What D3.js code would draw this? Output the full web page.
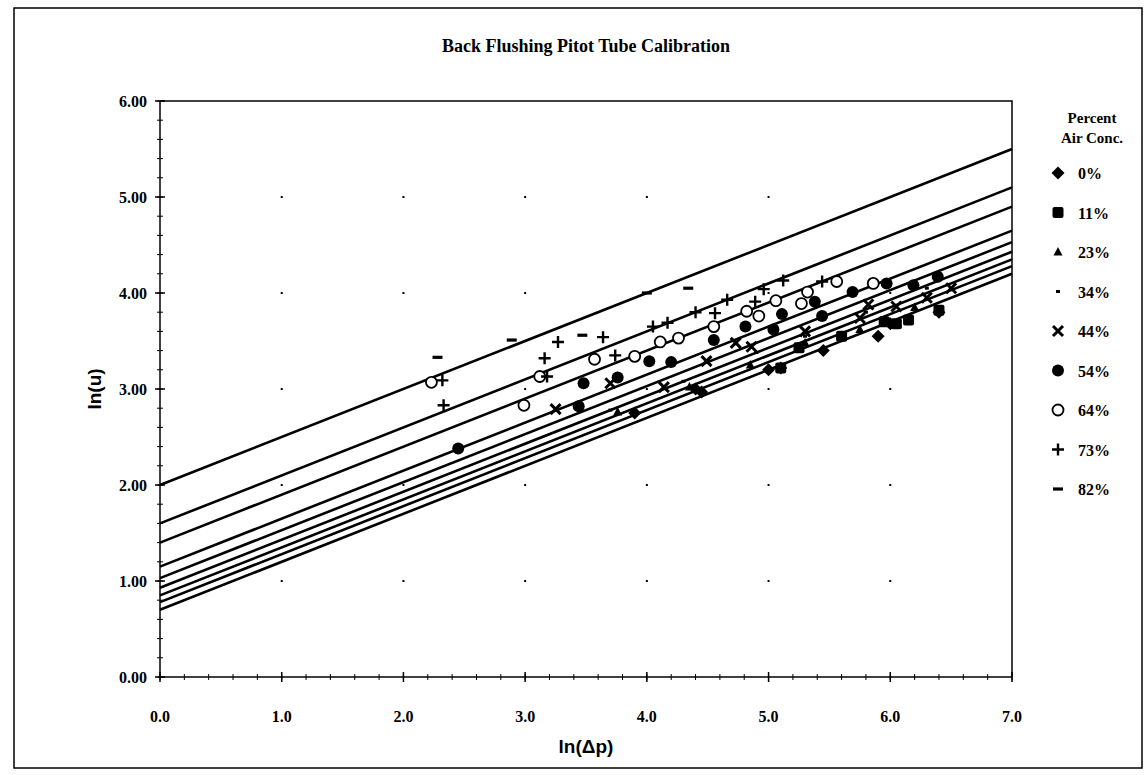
<!DOCTYPE html>
<html>
<head>
<meta charset="utf-8">
<script src="https://cdn.jsdelivr.net/npm/d3@7"></script>
<style>
  body { margin: 0; background: #fff; }
  text { fill: #000; }
  .tick-lbl { font-family: "Liberation Serif", serif; font-weight: bold; font-size: 16px; }
</style>
</head>
<body>
<svg></svg>
<script>
const width = 1146,
  height = 775;

// series names (legend order) and fitted line intercepts, slope 0.5
const seriesNames = ["0%", "11%", "23%", "34%", "44%", "54%", "64%", "73%", "82%"];
const intercepts = [0.7, 0.78, 0.85, 0.93, 1.03, 1.15, 1.4, 1.6, 2.0];
const slope = 0.5;

const pts0 = [[3.9, 2.75], [4.4, 3.0], [4.45, 2.97], [5.0, 3.2], [5.1, 3.22], [5.45, 3.4], [5.9, 3.55], [6.0, 3.68], [6.4, 3.8]];
const pts11 = [[5.1, 3.22], [5.25, 3.43], [5.6, 3.55], [5.95, 3.7], [6.05, 3.68], [6.15, 3.72], [6.4, 3.82]];
const pts23 = [[3.76, 2.76], [4.35, 3.02], [4.85, 3.25], [5.3, 3.48], [5.75, 3.62], [6.2, 3.85]];
const pts34 = [[3.7, 2.78], [4.3, 3.08], [4.9, 3.38], [5.3, 3.55], [5.8, 3.8], [6.3, 4.05]];
const pts44 = [[3.25, 2.79], [3.7, 3.06], [4.14, 3.02], [4.49, 3.29], [4.73, 3.48], [4.86, 3.44], [5.3, 3.6], [5.75, 3.74], [5.82, 3.88], [6.05, 3.86], [6.3, 3.95], [6.5, 4.05]];
const pts54 = [[2.45, 2.38], [3.44, 2.82], [3.48, 3.06], [3.76, 3.12], [4.02, 3.29], [4.2, 3.28], [4.55, 3.51], [4.81, 3.65], [5.04, 3.62], [5.11, 3.78], [5.38, 3.91], [5.44, 3.76], [5.69, 4.01], [5.97, 4.1], [6.19, 4.08], [6.39, 4.17]];
const pts64 = [[2.23, 3.07], [2.99, 2.83], [3.12, 3.13], [3.57, 3.31], [3.9, 3.34], [4.11, 3.49], [4.26, 3.53], [4.55, 3.65], [4.82, 3.81], [4.92, 3.76], [5.06, 3.92], [5.27, 3.89], [5.32, 4.01], [5.56, 4.12], [5.86, 4.1]];
const pts73 = [[2.32, 3.09], [2.33, 2.83], [3.16, 3.32], [3.18, 3.13], [3.27, 3.49], [3.64, 3.54], [3.74, 3.35], [4.05, 3.65], [4.17, 3.69], [4.4, 3.8], [4.56, 3.79], [4.66, 3.93], [4.89, 3.91], [4.96, 4.04], [5.12, 4.13], [5.44, 4.12]];
const pts82 = [[2.28, 3.33], [2.89, 3.51], [3.47, 3.56], [4.0, 4.0], [4.34, 4.05]];

const allPts = [pts0, pts11, pts23, pts34, pts44, pts54, pts64, pts73, pts82];
const markers = ["diamond", "square", "triangle", "dash34", "xmark", "dot", "ring", "plus", "dash"];

const xTicks = [0, 1, 2, 3, 4, 5, 6, 7];
const yTicks = [0, 1, 2, 3, 4, 5, 6];

const svg = d3.select("svg").attr("width", width).attr("height", height);

// outer frame
svg.append("rect")
  .attr("x", 14).attr("y", 8)
  .attr("width", 1128).attr("height", 760)
  .attr("fill", "none").attr("stroke", "#000").attr("stroke-width", 1.5);

const plot = { left: 160, right: 1012, top: 101, bottom: 677 };

const x = d3.scaleLinear().domain([0, 7]).range([plot.left, plot.right]);
const y = d3.scaleLinear().domain([0, 6]).range([plot.bottom, plot.top]);

// title
svg.append("text")
  .attr("x", 586).attr("y", 52)
  .attr("text-anchor", "middle")
  .style("font-family", "Liberation Serif, serif")
  .style("font-weight", "bold")
  .style("font-size", "18px")
  .text("Back Flushing Pitot Tube Calibration");

// plot border (top & right)
svg.append("path")
  .attr("d", `M${plot.left},${plot.top}H${plot.right}V${plot.bottom}`)
  .attr("fill", "none").attr("stroke", "#000").attr("stroke-width", 1.5);

// grid dots at the major intersections
const gridPts = [];
[1, 2, 3, 4, 5, 6].forEach(gx => [1, 2, 3, 4, 5].forEach(gy => gridPts.push([gx, gy])));
svg.append("g").selectAll("rect")
  .data(gridPts)
  .enter()
  .append("rect")
  .attr("x", d => x(d[0]) - 1)
  .attr("y", d => y(d[1]) - 1)
  .attr("width", 2).attr("height", 2)
  .attr("fill", "#000");

// axes
const xAxis = svg.append("g").attr("transform", `translate(0,${plot.bottom})`);
xAxis.append("line")
  .attr("x1", plot.left).attr("x2", plot.right)
  .attr("stroke", "#000").attr("stroke-width", 1.5);
xAxis.selectAll(".minor")
  .data(d3.range(0, 7.001, 0.2))
  .enter()
  .append("line")
  .attr("x1", d => x(d)).attr("x2", d => x(d))
  .attr("y1", -3).attr("y2", 3)
  .attr("stroke", "#000");
xAxis.selectAll(".major")
  .data(xTicks)
  .enter()
  .append("line")
  .attr("x1", d => x(d)).attr("x2", d => x(d))
  .attr("y1", -5).attr("y2", 5)
  .attr("stroke", "#000").attr("stroke-width", 1.5);
xAxis.selectAll("text")
  .data(xTicks)
  .enter()
  .append("text")
  .attr("class", "tick-lbl")
  .attr("x", d => x(d)).attr("y", 45)
  .attr("text-anchor", "middle")
  .text(d => d3.format(".1f")(d));

const yAxis = svg.append("g").attr("transform", `translate(${plot.left},0)`);
yAxis.append("line")
  .attr("y1", plot.top).attr("y2", plot.bottom)
  .attr("stroke", "#000").attr("stroke-width", 1.5);
yAxis.selectAll(".minor")
  .data(d3.range(0, 6.001, 0.2))
  .enter()
  .append("line")
  .attr("y1", d => y(d)).attr("y2", d => y(d))
  .attr("x1", -3).attr("x2", 3)
  .attr("stroke", "#000");
yAxis.selectAll(".major")
  .data(yTicks)
  .enter()
  .append("line")
  .attr("y1", d => y(d)).attr("y2", d => y(d))
  .attr("x1", -5).attr("x2", 5)
  .attr("stroke", "#000").attr("stroke-width", 1.5);
yAxis.selectAll("text")
  .data(yTicks)
  .enter()
  .append("text")
  .attr("class", "tick-lbl")
  .attr("x", -13).attr("y", d => y(d) + 6)
  .attr("text-anchor", "end")
  .text(d => d3.format(".2f")(d));

// axis titles
svg.append("text")
  .attr("x", x(3.5)).attr("y", 753)
  .attr("text-anchor", "middle")
  .style("font-family", "Liberation Sans Narrow, Liberation Sans, sans-serif")
  .style("font-weight", "bold")
  .style("font-size", "19px")
  .text("ln(Δp)");

svg.append("text")
  .attr("transform", `translate(101,${(plot.top + plot.bottom) / 2}) rotate(-90)`)
  .attr("text-anchor", "middle")
  .style("font-family", "Liberation Sans Narrow, Liberation Sans, sans-serif")
  .style("font-weight", "bold")
  .style("font-size", "19px")
  .text("ln(u)");

// fitted lines
const lineG = svg.append("g");
intercepts.forEach(c => {
  lineG.append("line")
    .attr("x1", x(0)).attr("y1", y(c))
    .attr("x2", x(7)).attr("y2", y(c + slope * 7))
    .attr("stroke", "#000")
    .attr("stroke-width", 2.6);
});

// marker drawing
function drawMarker(g, kind, cx, cy) {
  if (kind === "diamond") {
    g.append("path").attr("d", `M${cx},${cy - 6.5}L${cx + 6.5},${cy}L${cx},${cy + 6.5}L${cx - 6.5},${cy}Z`).attr("fill", "#000");
  } else if (kind === "square") {
    g.append("rect").attr("x", cx - 5.5).attr("y", cy - 5.5).attr("width", 11).attr("height", 11).attr("rx", 2).attr("fill", "#000");
  } else if (kind === "triangle") {
    g.append("path").attr("d", `M${cx},${cy - 5}L${cx + 4.5},${cy + 3.5}L${cx - 4.5},${cy + 3.5}Z`).attr("fill", "#000");
  } else if (kind === "dash34") {
    g.append("rect").attr("x", cx - 2).attr("y", cy - 1.5).attr("width", 4).attr("height", 3).attr("fill", "#000");
  } else if (kind === "xmark") {
    g.append("path").attr("d", `M${cx - 5},${cy - 5}L${cx + 5},${cy + 5}M${cx + 5},${cy - 5}L${cx - 5},${cy + 5}`)
      .attr("stroke", "#000").attr("stroke-width", 3).attr("fill", "none");
  } else if (kind === "dot") {
    g.append("circle").attr("cx", cx).attr("cy", cy).attr("r", 6).attr("fill", "#000");
  } else if (kind === "ring") {
    g.append("circle").attr("cx", cx).attr("cy", cy).attr("r", 5.5).attr("fill", "#fff").attr("stroke", "#000").attr("stroke-width", 1.8);
  } else if (kind === "plus") {
    g.append("path").attr("d", `M${cx - 6},${cy}H${cx + 6}M${cx},${cy - 6}V${cy + 6}`).attr("stroke", "#000").attr("stroke-width", 2.4).attr("fill", "none");
  } else if (kind === "dash") {
    g.append("rect").attr("x", cx - 5).attr("y", cy - 1.6).attr("width", 10).attr("height", 3.2).attr("fill", "#000");
  }
}

const markG = svg.append("g");
allPts.forEach((pts, i) => {
  pts.forEach(p => drawMarker(markG, markers[i], x(p[0]), y(p[1])));
});

// legend
const legend = svg.append("g");
legend.append("text")
  .attr("x", 1092).attr("y", 123)
  .attr("text-anchor", "middle")
  .style("font-family", "Liberation Serif, serif")
  .style("font-weight", "bold")
  .style("font-size", "15px")
  .text("Percent");
legend.append("text")
  .attr("x", 1092).attr("y", 143)
  .attr("text-anchor", "middle")
  .style("font-family", "Liberation Serif, serif")
  .style("font-weight", "bold")
  .style("font-size", "15px")
  .text("Air Conc.");
seriesNames.forEach((name, i) => {
  const ly = 173 + i * 39.5;
  drawMarker(legend, markers[i], 1058, ly);
  legend.append("text")
    .attr("x", 1078).attr("y", ly + 6)
    .style("font-family", "Liberation Serif, serif")
    .style("font-weight", "bold")
    .style("font-size", "16px")
    .text(name);
});
</script>
</body>
</html>
